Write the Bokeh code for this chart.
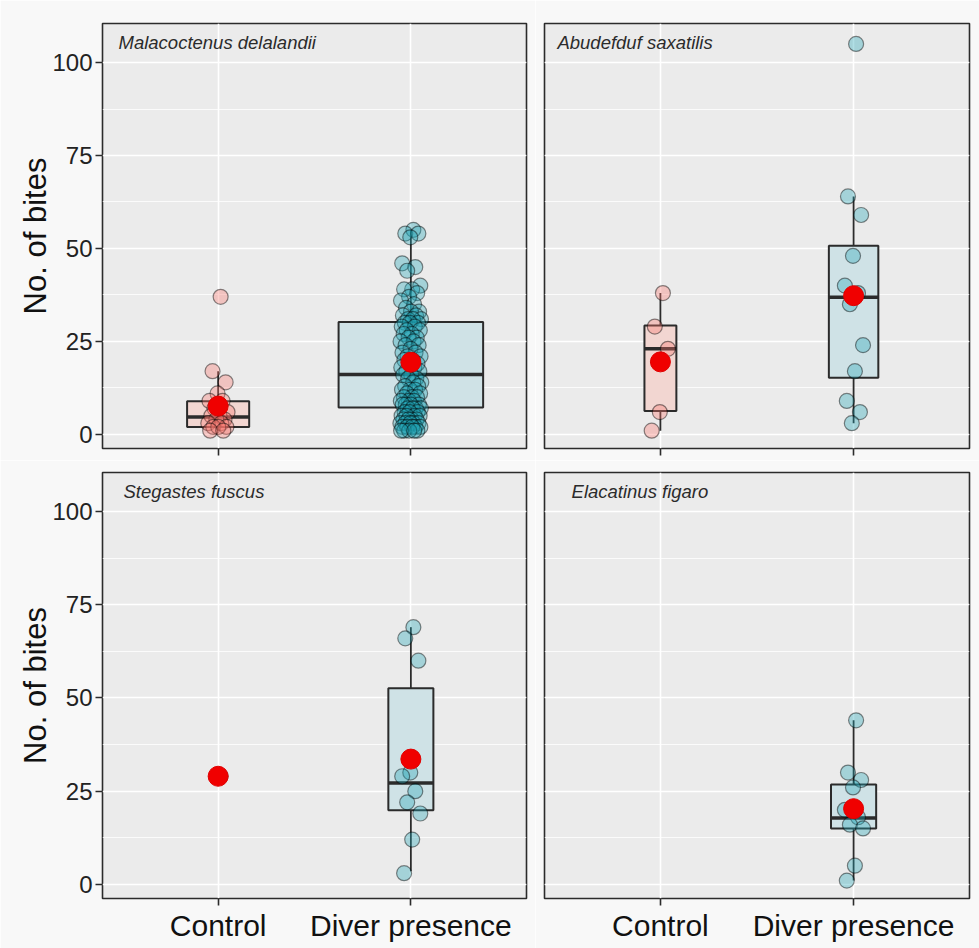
import numpy as np
from bokeh.plotting import figure
from bokeh.layouts import gridplot
from bokeh.models import Range1d, FixedTicker, SingleIntervalTicker, Label
from bokeh.embed import file_html
from bokeh.resources import INLINE

# ---------------- data ----------------
categories = ["Control", "Diver presence"]
species = ["Malacoctenus delalandii", "Abudefduf saxatilis",
           "Stegastes fuscus", "Elacatinus figaro"]
y_label = "No. of bites"

# individual observations (number of bites)
md_control = [37, 17, 14, 11, 9, 9, 7, 6, 5, 5, 4, 4, 3, 3, 2, 2, 2, 1, 1]
md_diver = [55, 54, 54, 53, 46, 45, 44, 40, 39, 39, 38, 37, 36, 35, 34, 33, 33,
            32, 32, 31, 31, 31, 30, 30, 30,
            29, 29, 28, 28, 27, 27, 26, 26, 25, 25, 24, 24, 23, 22, 22, 21, 21,
            20, 20, 19, 19, 18, 18, 17, 17, 16, 16,
            15, 15, 14, 14, 13, 13, 12, 12, 12, 11, 11, 10, 10, 10, 9, 9, 9,
            8, 8, 8, 8, 7, 7, 7, 7,
            6, 6, 6, 5, 5, 5, 5, 4, 4, 4, 4, 3, 3, 3, 3, 3, 2, 2, 2, 2, 2,
            1, 1, 1, 1, 1]
as_control = [38, 29, 23, 6, 1]
as_diver = [105, 64, 59, 48, 40, 38, 35, 24, 17, 9, 6, 3]
sf_control = [29]
sf_diver = [69, 66, 60, 30, 29, 25, 22, 19, 12, 3]
ef_control = []
ef_diver = [44, 30, 28, 26, 20, 18, 16, 15, 5, 1]

# box statistics: [lower whisker, Q1, median, Q3, upper whisker]
md_control_box = [1, 2, 4.7, 8.9, 17]
md_diver_box = [1, 7.2, 16.1, 30.2, 55]
as_control_box = [1, 6.3, 23, 29.3, 38]
as_diver_box = [3, 15.2, 36.9, 50.7, 64]
sf_control_box = [29, 29, 29, 29, 29]
sf_diver_box = [3.5, 19.9, 27.2, 52.6, 69]
ef_control_box = None
ef_diver_box = [1, 15, 17.8, 26.8, 44]

# group means
md_means = [7.6, 19.4]
as_means = [19.5, 37.3]
sf_means = [29, 33.6]
ef_means = [None, 20.3]

panels = [
    (species[0], [md_control, md_diver], [md_control_box, md_diver_box], md_means),
    (species[1], [as_control, as_diver], [as_control_box, as_diver_box], as_means),
    (species[2], [sf_control, sf_diver], [sf_control_box, sf_diver_box], sf_means),
    (species[3], [ef_control, ef_diver], [ef_control_box, ef_diver_box], ef_means),
]

# ---------------- styles ----------------
FONT = "Liberation Sans"
PT_FILL = ["#F8766D", "#1FA2B4"]
BOX_FILL = ["#F2D6D1", "#CFE2E6"]
PAGE_BG = "#F8F8F8"
PANEL_BG = "#EBEBEB"
DARK = "#2B2B2B"
title_x = [0.483, 0.467, 0.509, 0.54]
n_max = max(len(g) for _, pts, _, _ in panels for g in pts)


def jitter_offsets(n, amp=0.055):
    k = np.arange(1, n + 1)
    return amp * (((k * 0.6180339887) % 1.0) * 2 - 1)


def make_panel(idx):
    name, pts, boxes, means = panels[idx]
    row, col = divmod(idx, 2)
    kw = dict(
        frame_width=424 if col == 0 else 425,
        frame_height=425 if row == 0 else 426,
        min_border_left=102 if col == 0 else 9,
        min_border_right=9 if col == 0 else 10,
        min_border_top=23 if row == 0 else 12,
        min_border_bottom=12 if row == 0 else 50,
        x_range=Range1d(0.4, 2.6),
        y_range=Range1d(-3.8, 110.5),
        output_backend="svg",
        toolbar_location=None,
        y_axis_location="left" if col == 0 else None,
        background_fill_color=PANEL_BG,
        border_fill_color=PAGE_BG,
        outline_line_color=DARK,
        outline_line_width=1.6,
    )
    p = figure(**kw)

    yt = SingleIntervalTicker(interval=25, num_minor_ticks=2)
    p.ygrid.ticker = yt
    p.ygrid.grid_line_color = "white"
    p.ygrid.grid_line_width = 1.6
    p.ygrid.minor_grid_line_color = "white"
    p.ygrid.minor_grid_line_width = 0.8
    p.xgrid.ticker = FixedTicker(ticks=[1, 2])
    p.xgrid.grid_line_color = "white"
    p.xgrid.grid_line_width = 1.6

    xa = p.xaxis[0]
    xa.ticker = FixedTicker(ticks=[1, 2])
    xa.axis_line_color = None
    xa.major_tick_line_color = DARK
    xa.major_tick_line_width = 1.6
    xa.major_tick_out = 7
    xa.major_tick_in = 0
    xa.minor_tick_line_color = None
    xa.major_label_text_font = FONT
    if row == 0:
        # tick marks only, no labels on the upper panels
        xa.major_label_text_color = None
        xa.major_label_text_font_size = "0px"
        xa.major_label_standoff = 0
    else:
        xa.major_label_overrides = {1: categories[0], 2: categories[1]}
        xa.major_label_text_color = "#111111"
        xa.major_label_text_font_size = "30px"
        xa.major_label_standoff = 3

    if col == 0:
        ya = p.yaxis[0]
        ya.ticker = yt
        ya.axis_line_color = None
        ya.major_tick_line_color = DARK
        ya.major_tick_line_width = 1.6
        ya.major_tick_out = 7
        ya.major_tick_in = 0
        ya.minor_tick_line_color = None
        ya.major_label_text_font = FONT
        ya.major_label_text_font_size = "24px"
        ya.major_label_text_color = "#222222"
        ya.major_label_standoff = 3
        ya.axis_label = y_label
        ya.axis_label_text_font = FONT
        ya.axis_label_text_font_size = "31px"
        ya.axis_label_text_font_style = "normal"
        ya.axis_label_text_color = "#111111"
        ya.axis_label_standoff = -4

    for g in range(2):
        xc = g + 1
        vals = pts[g]
        box = boxes[g]
        if box is not None and len(vals) > 0:
            w = 0.75 * np.sqrt(len(vals) / n_max)
            lo, q1, med, q3, hi = box
            p.segment(x0=[xc, xc], y0=[q3, q1], x1=[xc, xc], y1=[hi, lo],
                      line_color=DARK, line_width=1.8)
            p.quad(left=[xc - w / 2], right=[xc + w / 2], bottom=[q1], top=[q3],
                   fill_color=BOX_FILL[g], line_color=DARK, line_width=2)
            p.segment(x0=[xc - w / 2], y0=[med], x1=[xc + w / 2], y1=[med],
                      line_color=DARK, line_width=3.5)
        if len(vals) > 0:
            xs = xc + jitter_offsets(len(vals))
            p.scatter(x=list(xs), y=vals, size=15, marker="circle",
                      fill_color=PT_FILL[g], fill_alpha=0.35,
                      line_color="black", line_alpha=0.45, line_width=1.2)
    mx = [i + 1 for i, m in enumerate(means) if m is not None]
    my = [m for m in means if m is not None]
    p.scatter(x=mx, y=my, size=20, marker="circle", fill_color="#F00000",
              line_color="#E00000", line_width=1)

    p.add_layout(Label(x=title_x[idx], y=105.4, text=name, text_font=FONT,
                       text_font_size="18.5px", text_font_style="italic",
                       text_color=DARK, text_baseline="middle"))
    return p


figs = [make_panel(i) for i in range(4)]
layout = gridplot([[figs[0], figs[1]], [figs[2], figs[3]]], toolbar_location=None)

open("out.html", "w").write(file_html(layout, INLINE))
